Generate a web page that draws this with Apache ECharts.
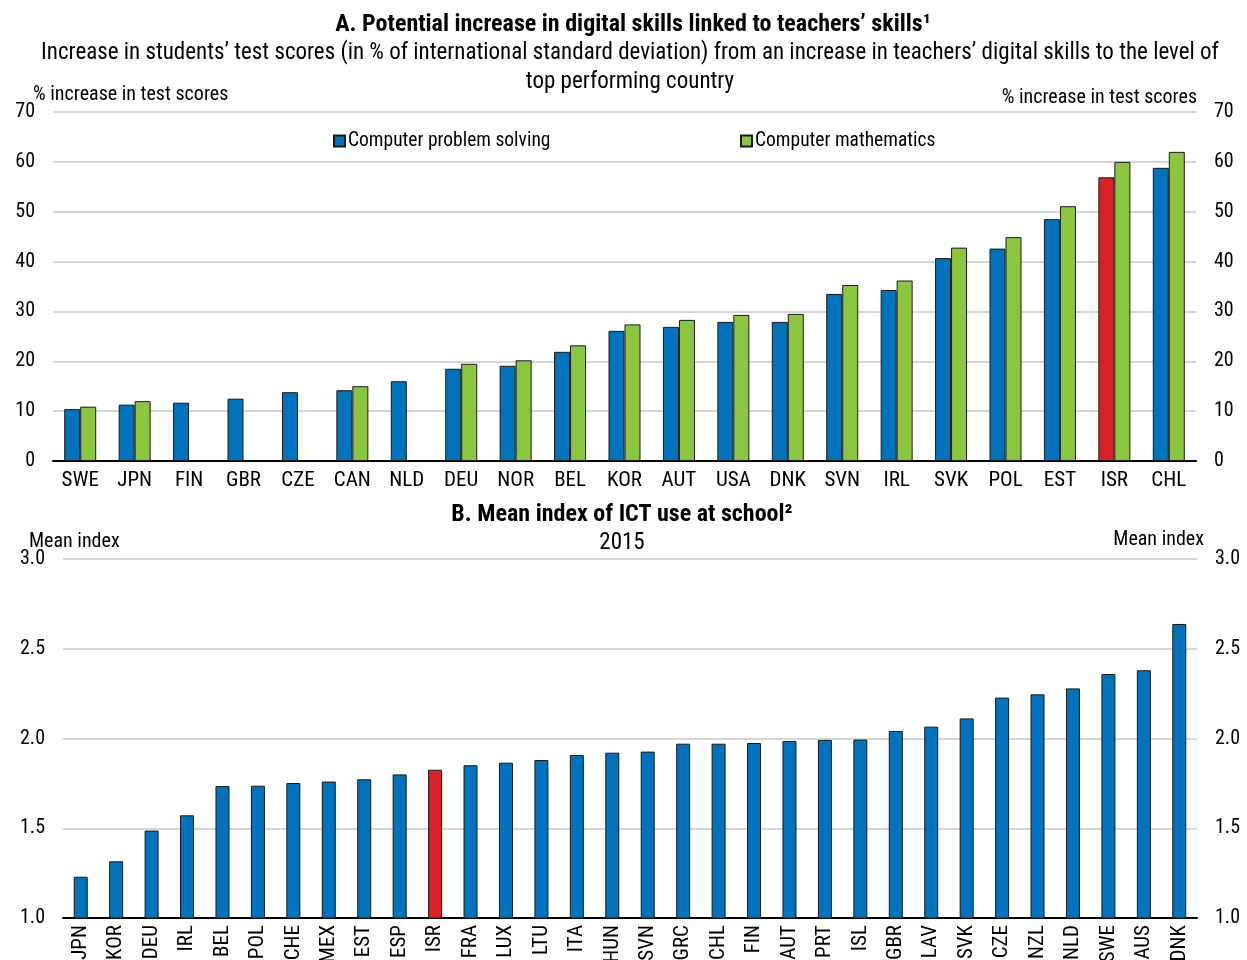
<!DOCTYPE html>
<html>
<head>
<meta charset="utf-8">
<script src="https://cdn.jsdelivr.net/npm/echarts@6/dist/echarts.min.js"></script>
<style>
  html, body { margin: 0; padding: 0; background: #fff; }
  #chart { width: 1247px; height: 960px; }
</style>
</head>
<body>
<div id="chart"></div>
<script>
// panel A data
var topCountries = ['SWE', 'JPN', 'FIN', 'GBR', 'CZE', 'CAN', 'NLD', 'DEU', 'NOR', 'BEL', 'KOR',
  'AUT', 'USA', 'DNK', 'SVN', 'IRL', 'SVK', 'POL', 'EST', 'ISR', 'CHL'];
var problemSolving = [10.4, 11.3, 11.7, 12.5, 13.8, 14.2, 16.0, 18.5, 19.1, 21.9, 26.1,
  26.9, 27.9, 27.9, 33.5, 34.3, 40.7, 42.6, 48.5, 56.9, 58.8];
var mathematics = [10.9, 12.0, null, null, null, 15.0, null, 19.5, 20.2, 23.2, 27.4,
  28.3, 29.3, 29.5, 35.3, 36.2, 42.8, 44.9, 51.1, 60.0, 62.0];

// panel B data
var bottomCountries = ['JPN', 'KOR', 'DEU', 'IRL', 'BEL', 'POL', 'CHE', 'MEX', 'EST', 'ESP', 'ISR',
  'FRA', 'LUX', 'LTU', 'ITA', 'HUN', 'SVN', 'GRC', 'CHL', 'FIN', 'AUT', 'PRT', 'ISL', 'GBR',
  'LAV', 'SVK', 'CZE', 'NZL', 'NLD', 'SWE', 'AUS', 'DNK'];
var ictIndex = [1.23, 1.316, 1.487, 1.572, 1.735, 1.737, 1.752, 1.760, 1.773, 1.800, 1.826,
  1.851, 1.865, 1.880, 1.908, 1.921, 1.927, 1.971, 1.971, 1.975, 1.986, 1.992, 1.994, 2.042,
  2.066, 2.112, 2.228, 2.246, 2.279, 2.359, 2.380, 2.638];

var highlight = 'ISR';

var font = '"Roboto Condensed", "Liberation Sans Narrow", "Arial Narrow", sans-serif';
var blue = '#0173bc';
var green = '#8cc641';
var red = '#da2128';
var edge = '#1a1a1a';

function colourise(cats, vals) {
  return vals.map(function (v, i) {
    if (cats[i] === highlight && v != null) {
      return { value: v, itemStyle: { color: red } };
    }
    return v;
  });
}

function txt(text, left, top, size, bold, align) {
  return {
    text: text,
    left: left,
    top: top,
    textAlign: align || 'left',
    padding: 0,
    textStyle: {
      fontFamily: font,
      fontSize: size,
      fontWeight: bold ? 'bold' : 'normal',
      color: '#000',
      lineHeight: 29
    }
  };
}

function yAx(gridIndex, min, max, step, side, grid, digits) {
  return {
    type: 'value',
    gridIndex: gridIndex,
    position: side,
    min: min,
    max: max,
    interval: step,
    axisLine: { show: false },
    axisTick: { show: false },
    axisLabel: {
      margin: 18,
      padding: [4, 0, 0, 0],
      fontFamily: font,
      fontSize: 20,
      color: '#000',
      formatter: function (v) { return v.toFixed(digits); }
    },
    splitLine: { show: grid, lineStyle: { color: '#d6d6d6', width: 2 } }
  };
}

function xAx(gridIndex, cats, rotate, size) {
  return {
    type: 'category',
    gridIndex: gridIndex,
    data: cats,
    axisLine: { lineStyle: { color: '#000', width: 2 } },
    axisTick: { inside: true, length: 6, lineStyle: { color: '#000', width: 1.5 } },
    axisLabel: {
      interval: 0,
      rotate: rotate,
      margin: rotate ? 7 : 9,
      fontFamily: font,
      fontSize: size,
      color: '#000'
    }
  };
}

function legendAt(name, left) {
  return {
    data: [name],
    left: left, top: 131,
    padding: 0,
    icon: 'rect', itemWidth: 11, itemHeight: 11, itemGap: 4,
    textStyle: { fontFamily: font, fontSize: 19.5, color: '#000', padding: [0, 0, 0, -2] }
  };
}

var chart = echarts.init(document.getElementById('chart'));
chart.setOption({
  backgroundColor: '#fff',
  animation: false,
  title: [
    txt('A. Potential increase in digital skills linked to teachers\u2019 skills\u00b9', 633, 10, 24, true, 'center'),
    txt('Increase in students\u2019 test scores (in % of international standard deviation) from an increase in teachers\u2019 digital skills to the level of\ntop performing country', 630, 39, 23, false, 'center'),
    txt('% increase in test scores', 33, 80, 20),
    txt('% increase in test scores', 1197, 83, 20, false, 'right'),
    txt('B. Mean index of ICT use at school\u00b2', 622, 500, 24, true, 'center'),
    txt('2015', 622, 529, 23, false, 'center'),
    txt('Mean index', 29, 527, 20),
    txt('Mean index', 1204, 525, 20, false, 'right')
  ],
  legend: [
    legendAt('Computer problem solving', 333),
    legendAt('Computer mathematics', 740)
  ],
  grid: [
    { left: 53, right: 51, top: 112, height: 349, outerBoundsMode: 'none' },
    { left: 63, right: 50, top: 559, height: 359, outerBoundsMode: 'none' }
  ],
  xAxis: [
    xAx(0, topCountries, 0, 21),
    xAx(1, bottomCountries, 90, 21)
  ],
  yAxis: [
    yAx(0, 0, 70, 10, 'left', true, 0),
    yAx(0, 0, 70, 10, 'right', false, 0),
    yAx(1, 1, 3, 0.5, 'left', true, 1),
    yAx(1, 1, 3, 0.5, 'right', false, 1)
  ],
  series: [
    {
      name: 'Computer problem solving',
      type: 'bar',
      xAxisIndex: 0, yAxisIndex: 0,
      barWidth: 16, barGap: '0%',
      itemStyle: { color: blue, borderColor: edge, borderWidth: 1 },
      data: colourise(topCountries, problemSolving)
    },
    {
      name: 'Computer mathematics',
      type: 'bar',
      xAxisIndex: 0, yAxisIndex: 0,
      barWidth: 16, barGap: '0%',
      itemStyle: { color: green, borderColor: edge, borderWidth: 1 },
      data: mathematics
    },
    {
      name: 'Mean index of ICT use at school',
      type: 'bar',
      xAxisIndex: 1, yAxisIndex: 2,
      barWidth: 14,
      itemStyle: { color: blue, borderColor: edge, borderWidth: 1 },
      data: colourise(bottomCountries, ictIndex)
    }
  ]
});
</script>
</body>
</html>
